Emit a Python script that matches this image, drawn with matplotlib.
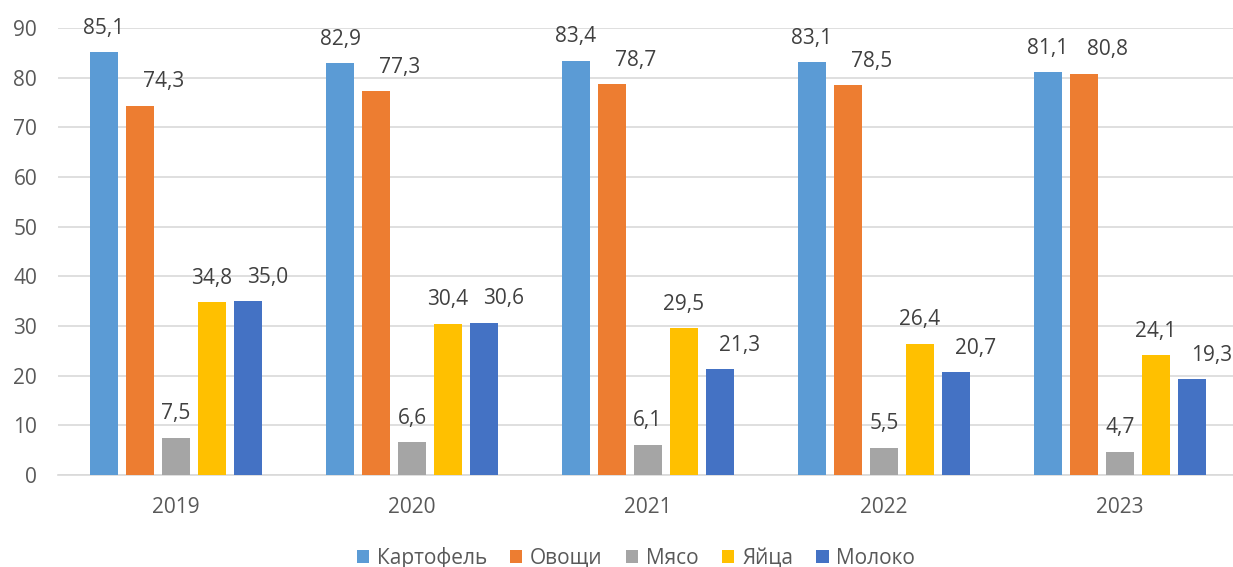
import matplotlib
matplotlib.use("Agg")
import matplotlib.pyplot as plt
import numpy as np

years = ["2019", "2020", "2021", "2022", "2023"]
series_names = ["Картофель", "Овощи", "Мясо", "Яйца", "Молоко"]
kartofel = [85.1, 82.9, 83.4, 83.1, 81.1]
ovoshchi = [74.3, 77.3, 78.7, 78.5, 80.8]
myaso = [7.5, 6.6, 6.1, 5.5, 4.7]
yaitsa = [34.8, 30.4, 29.5, 26.4, 24.1]
moloko = [35.0, 30.6, 21.3, 20.7, 19.3]
yticks = [0, 10, 20, 30, 40, 50, 60, 70, 80, 90]

series = [kartofel, ovoshchi, myaso, yaitsa, moloko]
colors = ["#5B9BD5", "#ED7D31", "#A5A5A5", "#FFC000", "#4472C4"]
# horizontal nudge of value labels per series (points), as in the reference
label_dx = [0, 17, 0, 0, 14]

plt.rcParams['font.family'] = ['Open Sans', 'DejaVu Sans']

fig = plt.figure(figsize=(12.33, 5.67), dpi=100)
ax = fig.add_axes([58/1233, (567-475)/567, (1233-58)/1233, (475-28)/567])

x = np.arange(len(years))
step = 0.1525
width = 0.119
handles = []
for i, (vals, c, name) in enumerate(zip(series, colors, series_names)):
    pos = x + (i - 2) * step
    b = ax.bar(pos, vals, width, color=c, label=name, zorder=3)
    handles.append(b)
    for px, v in zip(pos, vals):
        ax.annotate(f"{v:.1f}".replace(".", ","), (px, v), xytext=(label_dx[i], 17.3),
                    textcoords="offset points", ha="center", va="center",
                    fontsize=15, color="#404040", zorder=4)

ax.set_xlim(-0.5, 4.5 - 5/236)
ax.set_ylim(0, 90)
ax.set_yticks(yticks)
ax.set_xticks(x)
ax.set_xticklabels(years)
ax.yaxis.grid(True, color="#D9D9D9", linewidth=1.2, zorder=0)
ax.set_axisbelow(True)
for s in ["top", "right", "left"]:
    ax.spines[s].set_visible(False)
ax.spines["bottom"].set_color("#D9D9D9")
ax.spines["bottom"].set_linewidth(1.2)
ax.tick_params(axis="both", length=0, labelsize=15, colors="#595959")
ax.tick_params(axis="x", pad=16)
ax.tick_params(axis="y", pad=15)

fig.legend(handles=handles, labels=series_names, loc="center",
           bbox_to_anchor=(636/1233, 9/567), ncol=5, frameon=False,
           fontsize=15, labelcolor="#595959", handlelength=0.58, handleheight=0.58,
           handletextpad=0.38, columnspacing=1.12)

fig.savefig("out.png", dpi=100)
